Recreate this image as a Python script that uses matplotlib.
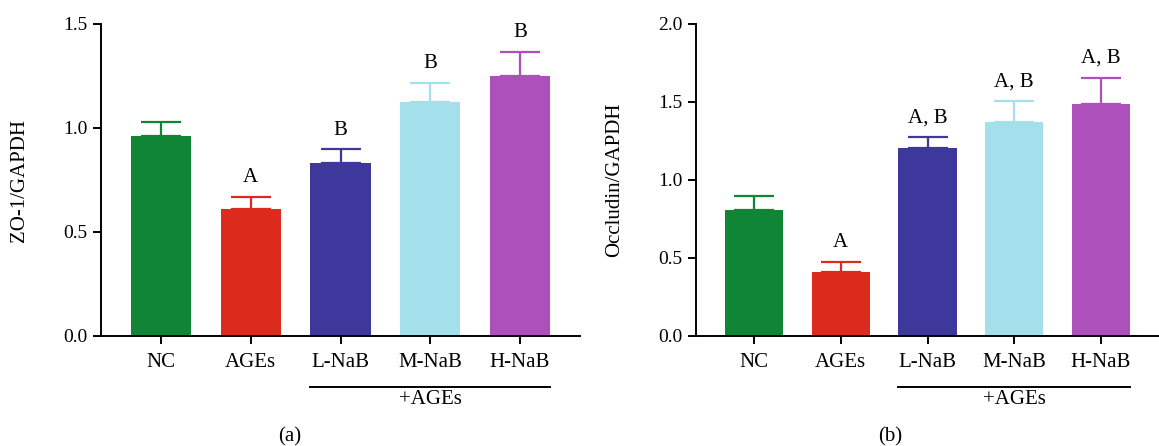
import matplotlib
matplotlib.use("Agg")
import matplotlib.pyplot as plt
import matplotlib.transforms as mtransforms

plt.rcParams['font.family'] = ['Liberation Serif', 'DejaVu Serif']

groups = ["NC", "AGEs", "L-NaB", "M-NaB", "H-NaB"]
colors = ["#108535", "#DC2B1C", "#3E389C", "#A4DFEC", "#AD50BB"]

zo1_mean = [0.96, 0.61, 0.83, 1.126, 1.25]
zo1_err = [0.07, 0.057, 0.07, 0.092, 0.115]
zo1_sig = ["", "A", "B", "B", "B"]
zo1_sig_y = [None, 0.76, 0.99, 1.31, 1.458]

occ_mean = [0.81, 0.41, 1.207, 1.37, 1.49]
occ_err = [0.087, 0.066, 0.071, 0.134, 0.164]
occ_sig = ["", "A", "A, B", "A, B", "A, B"]
occ_sig_y = [None, 0.60, 1.40, 1.63, 1.78]

W, H = 1159, 446
fig = plt.figure(figsize=(W / 100, H / 100), dpi=100)

def px_axes(l, r, b, t):
    return fig.add_axes([l / W, 1 - b / H, (r - l) / W, (b - t) / H])

def panel(ax, means, errs, sig, sig_y, ymax, yticks, ylabel, letter, letter_x, ylab_x):
    x = list(range(len(groups)))
    ax.bar(x, means, width=0.67, color=colors, zorder=2)
    for xi, m, e, c in zip(x, means, errs, colors):
        ax.errorbar([xi], [m], yerr=[[0], [e]], fmt='none', ecolor=c,
                    elinewidth=1.6, capsize=14.5, capthick=1.6, zorder=1)
    for xi, s, sy in zip(x, sig, sig_y):
        if s:
            ax.text(xi, sy, s, ha='center', va='center', fontsize=15)
    ax.set_xlim(-0.67, 4.67)
    ax.set_ylim(0, ymax)
    ax.set_yticks(yticks)
    ax.set_yticklabels([f"{v:.1f}" for v in yticks])
    ax.set_xticks(x)
    ax.set_xticklabels(groups, fontsize=15)
    for s in ['top', 'right']:
        ax.spines[s].set_visible(False)
    for s in ['left', 'bottom']:
        ax.spines[s].set_linewidth(1.4)
    ax.tick_params(axis='both', length=6, width=1.4)
    ax.tick_params(axis='y', labelsize=14, pad=4)
    ax.tick_params(axis='x', pad=6)
    trans = mtransforms.blended_transform_factory(ax.transData, ax.transAxes)
    ax.plot([2 - 0.335, 4 + 0.335], [-0.163, -0.163], color='black', lw=1.4,
            transform=trans, clip_on=False)
    ax.text(3, -0.205, "+AGEs", ha='center', va='center', fontsize=15, transform=trans)
    fig.text(ylab_x / W, 1 - 180 / H, ylabel, rotation=90, ha='center', va='center', fontsize=15)
    fig.text(letter_x / W, 1 - 437 / H, letter, ha='center', va='center', fontsize=15)

ax1 = px_axes(101, 580, 336, 24)
panel(ax1, zo1_mean, zo1_err, zo1_sig, zo1_sig_y, 1.5, [0.0, 0.5, 1.0, 1.5],
      "ZO-1/GAPDH", "(a)", 290, 20)

ax2 = px_axes(696, 1159, 336, 24)
panel(ax2, occ_mean, occ_err, occ_sig, occ_sig_y, 2.0, [0.0, 0.5, 1.0, 1.5, 2.0],
      "Occludin/GAPDH", "(b)", 890, 615)

fig.savefig("out.png", dpi=100)
